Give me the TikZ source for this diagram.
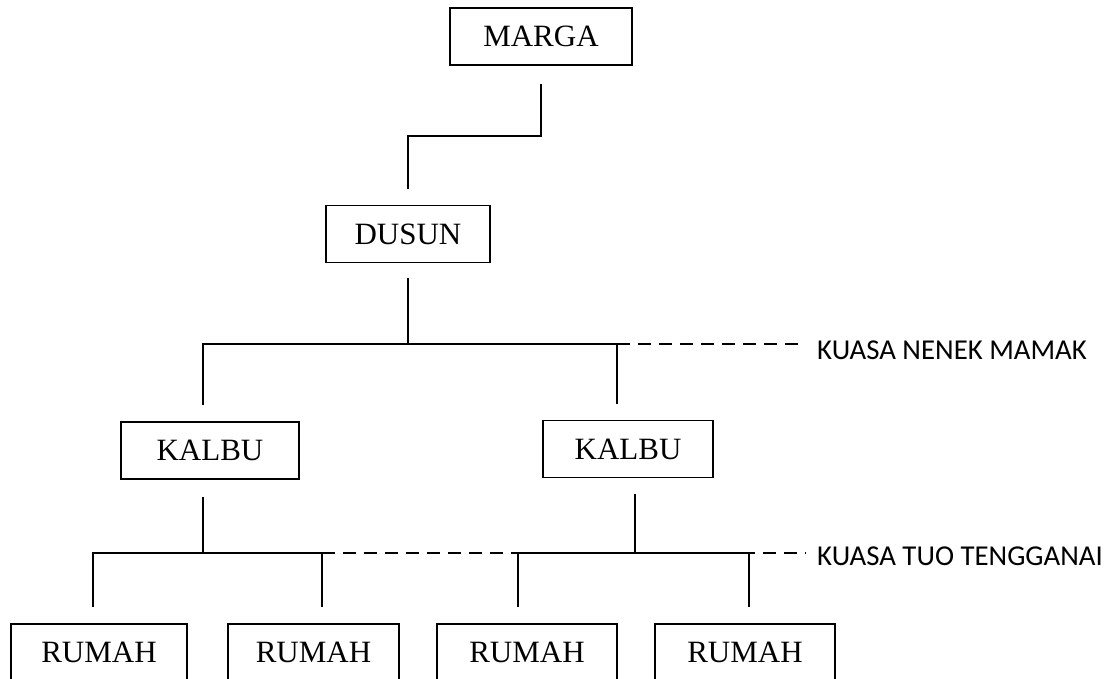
\documentclass[tikz,border=0pt]{standalone}
\usepackage{fontspec}
\setmainfont{Liberation Serif}
\newfontfamily\kuasafont{Carlito}

\tikzset{
  unit/.style={draw, line width=1.8pt, minimum height=57pt, inner sep=0pt, font=\fontsize{31}{36}\selectfont},
  link/.style={line width=1.8pt},
  kuasa/.style={line width=1.6pt, dash pattern=on 13pt off 8pt},
  kuasalbl/.style={anchor=west, inner sep=0pt, font=\kuasafont\fontsize{28.8}{34}\selectfont}
}

\begin{document}
\begin{tikzpicture}[x=1pt, y=1pt]
  \useasboundingbox (0,0) rectangle (1118,679);
  \node[unit, minimum width=182pt] (marga) at (541,642.5) {MARGA};
  \node[unit, minimum width=164pt] (dusun) at (408,445) {DUSUN};
  \node[unit, minimum width=178pt] (kalbuA) at (210,228.5) {KALBU};
  \node[unit, minimum width=170pt] (kalbuB) at (628,230) {KALBU};
  \node[unit, minimum width=176pt] (rumahA) at (99,26.5) {RUMAH};
  \node[unit, minimum width=171pt] (rumahB) at (313.5,26.5) {RUMAH};
  \node[unit, minimum width=180pt] (rumahC) at (527,26.5) {RUMAH};
  \node[unit, minimum width=180pt] (rumahD) at (745,26.5) {RUMAH};
  \coordinate (nenekA) at (203,335);
  \coordinate (nenekB) at (617,335);
  \coordinate (nenekEnd) at (800,335);
  \coordinate (tuoA) at (93,126);
  \coordinate (tuoB) at (322,126);
  \coordinate (tuoC) at (518,126);
  \coordinate (tuoD) at (749,126);
  \coordinate (tuoEnd) at (806,126);
  \draw[link] ([yshift=-18pt]marga.south) -- ++(0,-52) -| ([yshift=16pt]dusun.north);
  \draw[link] ([yshift=-15pt]dusun.south) -- (dusun.south |- nenekA);
  \draw[link] ([xshift=-7pt,yshift=16pt]kalbuA.north) -- (nenekA) -- (nenekB) -- ([xshift=-11pt,yshift=16pt]kalbuB.north);
  \draw[link] ([xshift=-7pt,yshift=-17pt]kalbuA.south) -- ++(0,-57);
  \draw[link] ([xshift=7pt,yshift=-16pt]kalbuB.south) -- ++(0,-60);
  \draw[link] ([xshift=-6pt,yshift=16pt]rumahA.north) -- (tuoA) -- (tuoB) -- ([xshift=8.5pt,yshift=16pt]rumahB.north);
  \draw[link] ([xshift=-9pt,yshift=16pt]rumahC.north) -- (tuoC) -- (tuoD) -- ([xshift=4pt,yshift=16pt]rumahD.north);
  \draw[kuasa] (nenekB) -- (nenekEnd);
  \draw[kuasa] (tuoB) -- (tuoEnd);
  \node[kuasalbl] (nenekLbl) at ([xshift=17pt,yshift=-6pt]nenekEnd) {KUASA NENEK MAMAK};
  \node[kuasalbl] (tuoLbl) at ([xshift=11pt,yshift=-3pt]tuoEnd) {KUASA TUO TENGGANAI};
\end{tikzpicture}
\end{document}
